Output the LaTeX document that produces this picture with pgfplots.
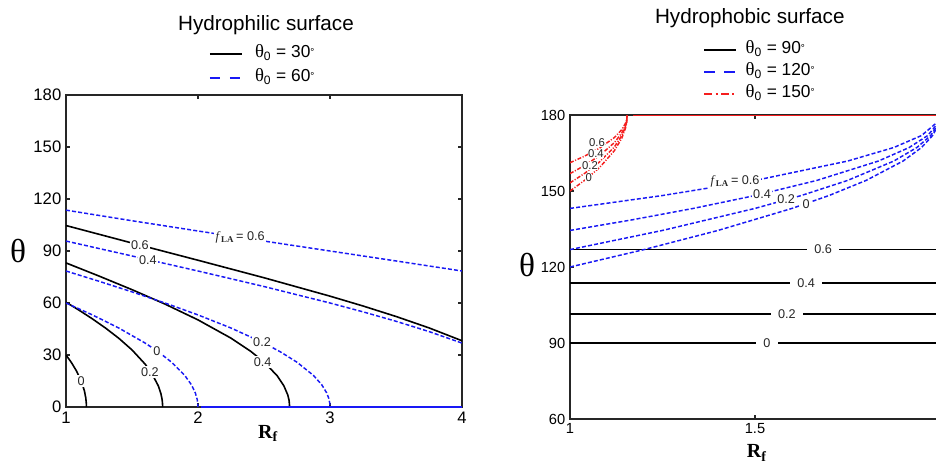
\documentclass[border=0pt]{standalone}
\usepackage{pgfplots}
\pgfplotsset{compat=1.18}
\usepackage{fontspec}
\setmainfont{Liberation Sans}
\newfontfamily\serif{Liberation Serif}
\definecolor{cblue}{RGB}{25,25,245}
\definecolor{cred}{RGB}{245,30,30}
\newcommand{\dg}{{\fontsize{7.5}{7.5}\selectfont\raisebox{0.5ex}{°}}}
\newcommand{\tz}{{\serif\fontsize{14}{14}\selectfont θ}\textsubscript{0}}
\newcommand{\fla}{{\serif\textit{f}\kern0.3pt\textsubscript{\textbf{LA}}}\,= }
\tikzset{
  cblack/.style={black, line width=1.2pt},
  cbl/.style={cblue, line width=1.1pt, dash pattern=on 3pt off 1.6pt},
  crd/.style={cred, line width=1.1pt, dash pattern=on 3pt off 1.2pt on 0.8pt off 1.2pt},
  lab/.style={fill=white, inner sep=1pt, font=\fontsize{9.5}{10}\selectfont, text=black!85},
}
\pgfplotsset{
  base/.style={scale only axis, tick align=inside, major tick length=3pt,
    axis line style={line width=0.9pt, black!85},
    every tick/.style={black!85, line width=0.8pt},
    /pgf/number format/assume math mode=true,
    tick label style={font=\fontsize{12.5}{14}\selectfont},
    legend cell align=left,
    legend image code/.code={\draw[##1] (0pt,0pt) -- (24pt,0pt);},
    ylabel style={rotate=-90, anchor=center, font=\serif\fontsize{25}{26}\selectfont},
    xlabel style={anchor=center, font=\serif\bfseries\fontsize{15}{16}\selectfont},
    title style={anchor=center, yshift=0pt, font=\fontsize{15.5}{17}\selectfont},
  },
}
\begin{document}
\begin{tikzpicture}
\path[use as bounding box, clip] (0,0) rectangle (702pt,348.75pt);
\fill[white] (0,0) rectangle (702pt,348.75pt);
% ---------------- Left: hydrophilic ----------------
\begin{axis}[base, at={(49.5pt,43.5pt)}, anchor=south west,
  width=297pt, height=234pt,
  xmin=1, xmax=4, ymin=0, ymax=180,
  xtick={1,2,3,4}, ytick={0,30,60,90,120,150,180},
  title={Hydrophilic surface}, title style={at={(0.505,1.199)}},
  xlabel={R\textsubscript{f}}, xlabel style={at={(0.51,-0.085)}},
  ylabel={θ}, ylabel style={at={(-0.121,0.5)}},
  legend style={draw=none, fill=none, at={(0.497,1.093)}, anchor=center,
    font=\fontsize{13}{15}\selectfont,
    nodes={text height=9pt, text depth=3pt, inner ysep=3pt},
    /tikz/every odd column/.append style={column sep=7pt}},
]
\addlegendimage{black, line width=1.6pt}
\addlegendentry{\tz\ = 30\dg}
\addlegendimage{cblue, line width=1.9pt, dash pattern=on 8pt off 7pt}
\addlegendentry{\tz\ = 60\dg}
% theta0 = 30 (black)
\addplot[cblack, forget plot] coordinates {(1,30.00)(1.04,25.77)(1.08,20.72)(1.12,14.08)(1.14,9.15)(1.15,5.17)(1.154,2.02)(1.1547,0)};
\addplot[cblack, forget plot] coordinates {(1,60.47)(1.1,55.80)(1.2,50.85)(1.3,45.52)(1.4,39.65)(1.5,32.94)(1.6,24.70)(1.65,19.41)(1.7,12.10)(1.72,7.42)(1.728,4.30)(1.731,2.19)(1.7321,0)};
\addplot[cblack, forget plot] coordinates {(1,83.13)(1.25,75.55)(1.5,67.70)(1.75,59.38)(2.0,50.26)(2.25,39.72)(2.4,32.10)(2.5,25.97)(2.6,18.02)(2.65,12.31)(2.68,6.99)(2.69,3.84)(2.6943,0)};
\addplot[cblack, forget plot] coordinates {(1,104.69)(1.5,94.61)(2,84.67)(2.5,74.57)(3,63.95)(3.25,58.28)(3.5,52.23)(3.75,45.65)(4,38.22)};
% theta0 = 60 (blue dashed)
\addplot[cbl, forget plot] coordinates {(1,60)(1.2,53.13)(1.4,45.57)(1.6,36.87)(1.7,31.79)(1.8,25.84)(1.9,18.19)(1.95,12.84)(1.98,8.11)(1.995,4.05)(2,0)};
\addplot[cbl, forget plot] coordinates {(1,78.46)(1.25,72.54)(1.5,66.42)(1.75,60)(2,53.13)(2.25,45.57)(2.5,36.87)(2.625,31.79)(2.75,25.84)(2.875,18.19)(2.9375,12.84)(2.975,8.11)(2.99,5.13)(2.998,2.29)(3,0)};
\addplot[cbl, forget plot] coordinates {(1,95.74)(1.5,87.13)(2,78.46)(2.5,69.51)(3,60)(3.25,54.90)(3.5,49.46)(3.75,43.53)(4,36.87)};
\addplot[cbl, forget plot] coordinates {(1,113.58)(1.5,107.46)(2,101.54)(2.5,95.74)(3,90)(3.5,84.26)(4,78.46)};
\addplot[cblue, line width=1.6pt, forget plot] coordinates {(2.02,0)(4,0)};
% contour labels
\node[lab] at (1.56,93.4) {0.6};
\node[lab] at (1.62,85.0) {0.4};
\node[lab] at (2.32,97.8) {\fla0.6};
\node[lab] at (2.485,37.6) {0.2};
\node[lab] at (1.689,32.2) {0};
\node[lab] at (2.49,25.8) {0.4};
\node[lab] at (1.636,20.3) {0.2};
\node[lab] at (1.114,15.0) {0};
\end{axis}
% ---------------- Right: hydrophobic ----------------
\begin{axis}[base, at={(427.5pt,34.5pt)}, anchor=south west,
  width=277.5pt, height=228pt,
  xmin=1, xmax=2, ymin=60, ymax=180,
  xtick={1,1.5,2}, ytick={60,90,120,150,180},
  tick label style={font=\fontsize{11}{13}\selectfont},
  title={Hydrophobic surface}, title style={at={(0.486,1.292)}},
  xlabel={R\textsubscript{f}}, xlabel style={at={(0.505,-0.112)}},
  ylabel={θ}, ylabel style={at={(-0.116,0.507)}},
  legend style={draw=none, fill=none, at={(0.514,1.141)}, anchor=center,
    font=\fontsize{13}{15}\selectfont,
    nodes={text height=8.7pt, text depth=3pt, inner ysep=2.4pt},
    /tikz/every odd column/.append style={column sep=4pt}},
]
\addlegendimage{black, line width=1.6pt}
\addlegendentry{\tz\ = 90\dg}
\addlegendimage{cblue, line width=1.9pt, dash pattern=on 8pt off 7pt}
\addlegendentry{\tz\ = 120\dg}
\addlegendimage{cred, line width=1.9pt, dash pattern=on 6pt off 2.5pt on 1.5pt off 2.5pt}
\addlegendentry{\tz\ = 150\dg}
% theta0 = 90 (black)
\addplot[cblack, forget plot] coordinates {(1,90)(2,90)};
\addplot[cblack, forget plot] coordinates {(1,101.54)(2,101.54)};
\addplot[cblack, forget plot] coordinates {(1,113.58)(2,113.58)};
\addplot[cblack, forget plot] coordinates {(1,126.87)(2,126.87)};
% theta0 = 120 (blue dashed)
\addplot[cbl, forget plot] coordinates {(1,120)(1.2,126.87)(1.4,134.43)(1.6,143.13)(1.7,148.21)(1.8,154.16)(1.9,161.81)(1.95,167.16)(1.98,171.89)(1.995,175.95)(2,180)};
\addplot[cbl, forget plot] coordinates {(1,126.87)(1.25,134.43)(1.5,143.13)(1.625,148.21)(1.75,154.16)(1.875,161.81)(1.9375,167.16)(1.975,171.89)(1.995,176.38)(2,180)};
\addplot[cbl, forget plot] coordinates {(1,134.43)(1.1667,138.59)(1.3333,143.13)(1.5,148.21)(1.6667,154.16)(1.8333,161.81)(1.9167,167.16)(1.9667,171.89)(1.995,176.86)(2,180)};
\addplot[cbl, forget plot] coordinates {(1,143.13)(1.25,148.21)(1.5,154.16)(1.75,161.81)(1.875,167.16)(1.95,171.89)(1.995,177.44)(2,180)};
% theta0 = 150 (red dash-dot)
\addplot[crd, forget plot] coordinates {(1,150)(1.04,154.25)(1.08,159.28)(1.12,165.92)(1.14,170.85)(1.15,174.83)(1.153,176.89)(1.1547,180)};
\addplot[crd, forget plot] coordinates {(1,153.20)(1.04,157.0)(1.08,161.5)(1.12,167.41)(1.14,171.89)(1.15,175.38)(1.153,177.2)(1.1547,180)};
\addplot[crd, forget plot] coordinates {(1,156.87)(1.04,160.12)(1.08,163.98)(1.12,169.1)(1.14,172.92)(1.15,176.0)(1.153,177.6)(1.1547,180)};
\addplot[crd, forget plot] coordinates {(1,161.16)(1.04,163.8)(1.08,166.94)(1.12,171.1)(1.14,174.22)(1.15,176.73)(1.153,178.03)(1.1547,180)};
\addplot[cred, line width=1.6pt, forget plot] coordinates {(1.17,180)(2,180)};
% contour labels
\node[lab, inner sep=0.3pt, font=\fontsize{8.5}{9}\selectfont] at (1.073,169.3) {0.6};
\node[lab, inner sep=0.3pt, font=\fontsize{8.5}{9}\selectfont] at (1.070,164.6) {0.4};
\node[lab, inner sep=0.3pt, font=\fontsize{8.5}{9}\selectfont] at (1.054,159.9) {0.2};
\node[lab, inner sep=0.3pt, font=\fontsize{8.5}{9}\selectfont] at (1.051,155.1) {0};
\node[lab] at (1.446,153.6) {\fla0.6};
\node[lab] at (1.519,148.9) {0.4};
\node[lab] at (1.584,146.6) {0.2};
\node[lab] at (1.638,145.0) {0};
\node[lab, inner xsep=5.5pt] at (1.684,126.87) {0.6};
\node[lab, inner xsep=5.5pt] at (1.638,113.58) {0.4};
\node[lab, inner xsep=5.5pt] at (1.586,101.54) {0.2};
\node[lab, inner xsep=5.5pt] at (1.532,90) {0};
\end{axis}
\end{tikzpicture}
\end{document}
